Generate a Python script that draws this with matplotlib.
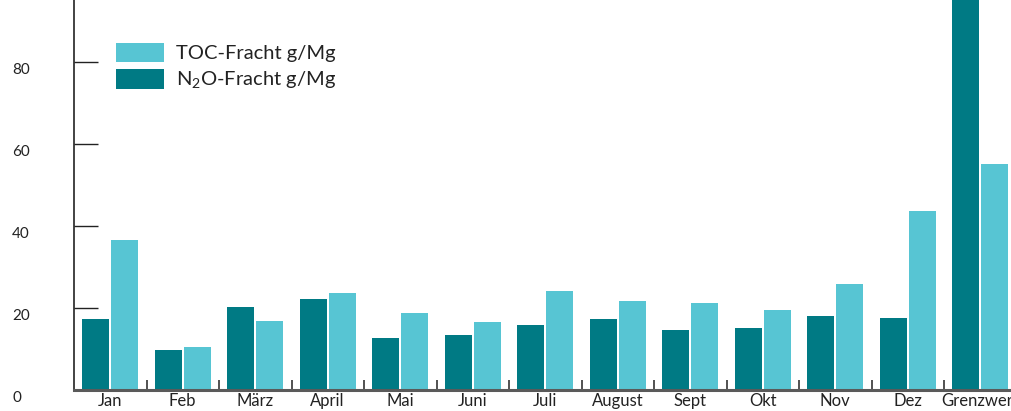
import matplotlib
matplotlib.use('Agg')
import matplotlib.pyplot as plt
from matplotlib.transforms import ScaledTranslation
import numpy as np

plt.rcParams['font.family'] = ['Lato', 'DejaVu Sans']
plt.rcParams['mathtext.fontset'] = 'custom'
plt.rcParams['mathtext.rm'] = 'Lato'

months = ['Jan', 'Feb', 'März', 'April', 'Mai', 'Juni', 'Juli', 'August',
          'Sept', 'Okt', 'Nov', 'Dez', 'Grenzwert']
n2o_fracht = [17.3, 9.8, 20.2, 22.2, 12.7, 13.4, 15.9, 17.3, 14.6, 15.1, 18.0, 17.6, 100.0]
toc_fracht = [36.6, 10.5, 16.8, 23.7, 18.8, 16.6, 24.1, 21.7, 21.2, 19.5, 25.9, 43.7, 55.1]
y_ticks = [0, 20, 40, 60, 80]

dark = '#007a84'
light = '#57c5d3'

fig = plt.figure(figsize=(10.12, 4.11), dpi=100)
ax = fig.add_axes([74 / 1012, 21 / 411, 942.5 / 1012, 390 / 411])

centers = np.arange(len(months)) + 0.497
bar_w = 0.372
b_toc = ax.bar(centers + 0.2, toc_fracht, width=bar_w, color=light, label='TOC-Fracht g/Mg')
b_n2o = ax.bar(centers - 0.2, n2o_fracht, width=bar_w, color=dark, label=r'N$_\mathrm{2}$O-Fracht g/Mg')

ax.set_xlim(0, len(months))
ax.set_ylim(0, 95.1)

for s in ['top', 'right']:
    ax.spines[s].set_visible(False)
ax.spines['left'].set_color('#222222')
ax.spines['left'].set_linewidth(1.2)
ax.spines['bottom'].set_color('#5a5a5a')
ax.spines['bottom'].set_linewidth(2.2)

# y axis: long inward ticks, labels far left
ax.set_yticks(y_ticks)
ax.tick_params(axis='y', direction='in', length=17, width=1.0, color='#222222',
               pad=44.6, labelsize=11, labelcolor='#222222')
for lab in ax.get_yticklabels():
    lab.set_horizontalalignment('left')
    lab.set_transform(lab.get_transform() + ScaledTranslation(0, -5 / 72, fig.dpi_scale_trans))

# x axis: labels at group centres, small ticks at group borders
ax.set_xticks(centers)
ax.set_xticklabels(months)
ax.tick_params(axis='x', which='major', length=0, pad=2, labelsize=12, labelcolor='#222222')
ax.set_xticks(np.arange(1, len(months)), minor=True)
ax.tick_params(axis='x', which='minor', direction='in', length=7, width=1.2, color='#333333')

ax.legend(handles=[b_toc, b_n2o], loc='upper left', bbox_to_anchor=(0.0446, 0.89),
          frameon=False, fontsize=14.5, handlelength=2.39, handleheight=1.1,
          handletextpad=0.6, labelspacing=0.35, borderpad=0, borderaxespad=0,
          labelcolor='#222222')

fig.savefig('out.png', dpi=100)
